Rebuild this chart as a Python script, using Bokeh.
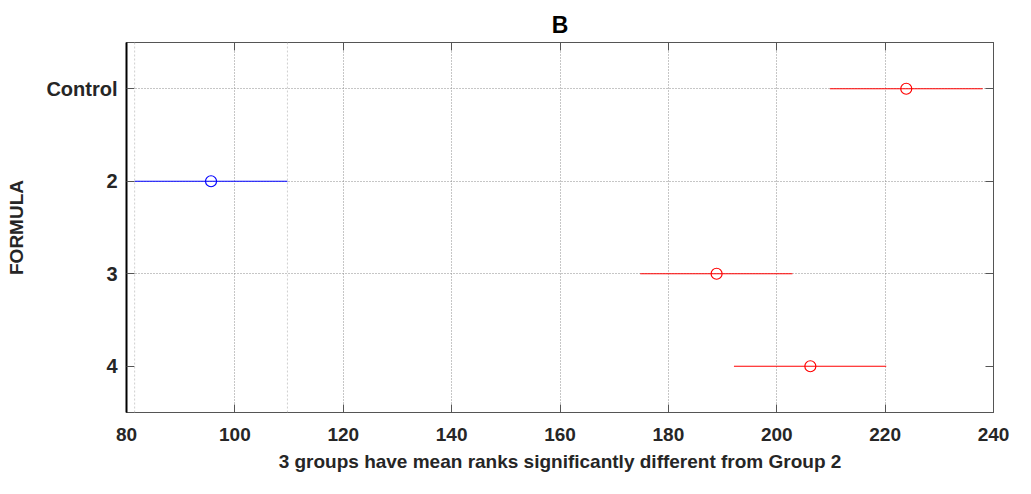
from bokeh.plotting import figure
from bokeh.models import (ColumnDataSource, Range1d, FactorRange, FixedTicker,
                          LinearAxis, CategoricalAxis, Span, Grid)
from bokeh.embed import file_html
from bokeh.resources import INLINE

# ---- data ----
groups = ["Control", "2", "3", "4"]
mean_ranks = [223.9, 95.6, 188.9, 206.2]
lower = [209.8, 81.5, 174.8, 192.1]
upper = [238.0, 109.7, 202.9, 220.2]
colors = ["#ff0000", "#0000ff", "#ff0000", "#ff0000"]
x_ticks = [80, 100, 120, 140, 160, 180, 200, 220, 240]
ref_group = "2"
title_text = "B"
x_label = "3 groups have mean ranks significantly different from Group 2"
y_label = "FORMULA"

FONT = "Liberation Sans"
TXT = "#262626"

src = ColumnDataSource(dict(g=groups, m=mean_ranks, lo=lower, hi=upper, c=colors))

p = figure(width=1015, height=478, output_backend="svg", toolbar_location=None,
           x_range=Range1d(x_ticks[0], x_ticks[-1]),
           y_range=FactorRange(factors=list(reversed(groups))),
           x_axis_type=None, y_axis_type=None,
           min_border_left=126, min_border_right=22,
           min_border_top=42, min_border_bottom=66)
p.background_fill_color = "white"
p.border_fill_color = "white"
p.outline_line_color = "#555555"
p.outline_line_width = 1

p.title.text = title_text
p.title.align = "center"
p.title.text_font = FONT
p.title.text_font_size = "23px"
p.title.text_font_style = "bold"
p.title.text_color = "black"

xb = LinearAxis(ticker=FixedTicker(ticks=x_ticks))
xt = LinearAxis(ticker=FixedTicker(ticks=x_ticks))
yl = CategoricalAxis()
yr = CategoricalAxis()
p.add_layout(xb, "below")
p.add_layout(xt, "above")
p.add_layout(yl, "left")
p.add_layout(yr, "right")

for ax in (xb, xt, yl, yr):
    ax.major_tick_out = 0
    ax.major_tick_in = 8
    ax.minor_tick_in = 0
    ax.minor_tick_out = 0
    ax.major_tick_line_color = "#555555"
    ax.axis_line_color = "#555555"
    ax.major_label_text_font = FONT
    ax.major_label_text_font_style = "bold"
    ax.major_label_text_font_size = "19px"
    ax.major_label_text_color = TXT
    ax.axis_label_text_font = FONT
    ax.axis_label_text_font_style = "bold"
    ax.axis_label_text_font_size = "19px"
    ax.axis_label_text_color = TXT

# top/right axes: tick marks only, no labels
for ax in (xt, yr):
    ax.major_label_text_font_size = "1px"
    ax.major_label_text_color = None
    ax.major_label_standoff = 0

yl.major_label_text_font_size = "20px"
yl.axis_line_color = "black"
yl.axis_line_width = 2
xb.major_label_standoff = 15
xb.axis_label = x_label
xb.axis_label_standoff = 7
yl.major_label_standoff = 9
yl.axis_label = y_label
yl.axis_label_standoff = 16

p.xgrid.visible = False
p.ygrid.visible = False
vg = Grid(dimension=0, ticker=xb.ticker, grid_line_color="#8c8c8c",
          grid_line_dash="1 2", grid_line_width=1)
hg = Grid(dimension=1, ticker=yl.ticker, grid_line_color="#8c8c8c",
          grid_line_dash="1 2", grid_line_width=1)
p.add_layout(vg)
p.add_layout(hg)

ri = groups.index(ref_group)
for loc in (lower[ri], upper[ri]):
    p.add_layout(Span(location=loc, dimension="height", line_color="#cfcfcf",
                      line_dash="2 2", line_width=1))

p.segment(x0="lo", x1="hi", y0="g", y1="g", line_color="c", line_width=1.2, source=src)
p.scatter(x="m", y="g", marker="circle", size=11, fill_color=None,
          line_color="c", line_width=1.2, source=src)

open("out.html", "w").write(file_html(p, INLINE))
